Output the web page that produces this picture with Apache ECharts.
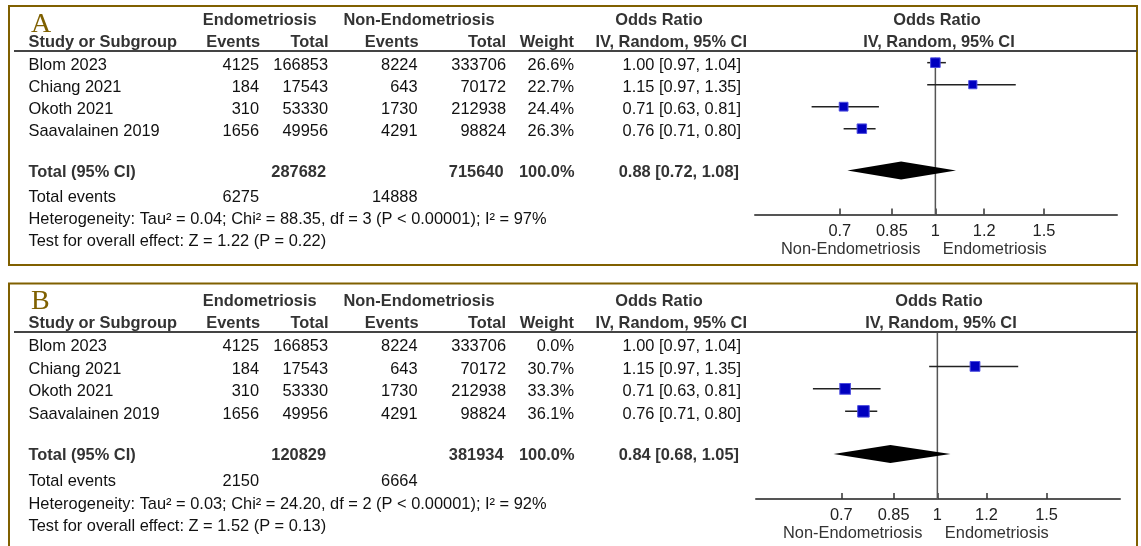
<!DOCTYPE html>
<html>
<head>
<meta charset="utf-8">
<script src="https://cdn.jsdelivr.net/npm/echarts@6/dist/echarts.min.js"></script>
<style>
  html, body { margin: 0; padding: 0; background: #fff; }
  #chart { width: 1141px; height: 546px; }
</style>
</head>
<body>
<div id="chart"></div>
<script>
// Study-level data (shared by both analyses)
const studies    = ['Blom 2023', 'Chiang 2021', 'Okoth 2021', 'Saavalainen 2019'];
const endoEvents = [4125, 184, 310, 1656];
const endoTotal  = [166853, 17543, 53330, 49956];
const nonEvents  = [8224, 643, 1730, 4291];
const nonTotal   = [333706, 70172, 212938, 98824];
const orEst      = [1.00, 1.15, 0.71, 0.76];
const orLow      = [0.97, 0.97, 0.63, 0.71];
const orHigh     = [1.04, 1.35, 0.81, 0.80];

// Analysis A: all studies
const weightsA     = [26.6, 22.7, 24.4, 26.3];
const pooledA      = [0.88, 0.72, 1.08];        // estimate, low, high
const sumTotalsA   = [287682, 715640];          // endometriosis, non-endometriosis
const sumEventsA   = [6275, 14888];
const heteroA      = 'Heterogeneity: Tau² = 0.04; Chi² = 88.35, df = 3 (P < 0.00001); I² = 97%';
const overallA     = 'Test for overall effect: Z = 1.22 (P = 0.22)';

// Analysis B: Blom 2023 given zero weight
const weightsB     = [0.0, 30.7, 33.3, 36.1];
const pooledB      = [0.84, 0.68, 1.05];
const sumTotalsB   = [120829, 381934];
const sumEventsB   = [2150, 6664];
const heteroB      = 'Heterogeneity: Tau² = 0.03; Chi² = 24.20, df = 2 (P < 0.00001); I² = 92%';
const overallB     = 'Test for overall effect: Z = 1.52 (P = 0.13)';

// Axis
const orTicks  = [0.7, 0.85, 1, 1.2, 1.5];
const orRange  = [0.51, 1.97];
const sideLabels = ['Non-Endometriosis', 'Endometriosis'];

// ---------- layout ----------
const FONT = '"Liberation Sans", Arial, Helvetica, sans-serif';
const FS = 16.4;
const Y_MIN = -0.53, Y_MAX = 6.9;
const TOTAL_ROW = 4.9;
const panels = [
  { letter: 'A', boxTop: 6, boxH: 259, lineY: 51, axisY: 214.5, left: 755, width: 362, vStart: -0.22, sizeK: 0.36,
    weights: weightsA, pooled: pooledA, sumTotals: sumTotalsA, sumEvents: sumEventsA, hetero: heteroA, overall: overallA },
  { letter: 'B', boxTop: 283.5, boxH: 300, lineY: 332, axisY: 499, left: 756, width: 364, vStart: -0.5, sizeK: 0.318,
    weights: weightsB, pooled: pooledB, sumTotals: sumTotalsB, sumEvents: sumEventsB, hetero: heteroB, overall: overallB }
];
const COL = { name: 28.5, endoEv: 259, endoTot: 328, nonEv: 417.5, nonTot: 506, weight: 574, ci: 741 };

function rowPix(p, r) {
  const step = (p.axisY - p.lineY) / (Y_MAX - Y_MIN);
  return p.lineY + (r - Y_MIN) * step;
}
function txt(x, y, s, align, bold, color) {
  return {
    type: 'text', silent: true, z: 10,
    style: { text: s, x: x, y: y, align: align, verticalAlign: 'middle',
             font: (bold ? 'bold ' : '') + FS + 'px ' + FONT, fill: color || '#111' }
  };
}
const f2 = v => v.toFixed(2);
const ciText = (e, l, h) => f2(e) + ' [' + f2(l) + ', ' + f2(h) + ']';

const chart = echarts.init(document.getElementById('chart'), null, { renderer: 'canvas' });

const grids = [], xAxes = [], yAxes = [], series = [], graphics = [];

panels.forEach((p, i) => {
  grids.push({ left: p.left, width: p.width, top: p.lineY, height: p.axisY - p.lineY });
  xAxes.push({
    type: 'log', logBase: 10, gridIndex: i, min: orRange[0], max: orRange[1],
    axisLine: { show: true, onZero: false, lineStyle: { color: '#555', width: 2 } },
    axisTick: { show: true, inside: true, length: 6, customValues: orTicks, lineStyle: { color: '#333', width: 1.5 } },
    axisLabel: { show: true, customValues: orTicks, margin: 8.5, fontSize: FS, fontFamily: FONT, color: '#222',
                 formatter: v => String(Math.round(v * 100) / 100) },
    splitLine: { show: false }, minorTick: { show: false }, minorSplitLine: { show: false }
  });
  yAxes.push({ type: 'value', gridIndex: i, inverse: true, min: Y_MIN, max: Y_MAX, show: false, splitLine: { show: false } });

  // line of no effect
  series.push({
    type: 'line', xAxisIndex: i, yAxisIndex: i, silent: true, symbol: 'none', z: 1,
    lineStyle: { color: '#555', width: 1.5 },
    data: [[1, p.vStart], [1, Y_MAX]]
  });

  // confidence intervals of individual studies
  const studyData = studies.map((s, k) => [orEst[k], k, orLow[k], orHigh[k], p.weights[k]]);
  series.push({
    type: 'custom', xAxisIndex: i, yAxisIndex: i, silent: true, z: 2,
    encode: { x: [0, 2, 3], y: 1 },
    data: studyData,
    renderItem: (params, api) => {
      if (api.value(4) <= 0) return null;
      const a = api.coord([api.value(2), api.value(1)]);
      const b = api.coord([api.value(3), api.value(1)]);
      return { type: 'line', shape: { x1: a[0], y1: a[1], x2: b[0], y2: b[1] },
               style: { stroke: '#222', lineWidth: 1.5 } };
    }
  });
  // study squares sized by weight
  series.push({
    type: 'scatter', xAxisIndex: i, yAxisIndex: i, silent: true, z: 3,
    symbol: 'rect',
    symbolSize: v => v[2] * p.sizeK,
    itemStyle: { color: '#0000bf', borderColor: '#4d4de0', borderWidth: 1, opacity: 1 },
    data: studies.map((s, k) => [orEst[k], k, p.weights[k]]).filter(d => d[2] > 0)
  });
  // pooled estimate diamond
  series.push({
    type: 'custom', xAxisIndex: i, yAxisIndex: i, silent: true, z: 3,
    encode: { x: [0, 1, 2], y: 3 },
    data: [[p.pooled[0], p.pooled[1], p.pooled[2], TOTAL_ROW]],
    renderItem: (params, api) => {
      const c = api.coord([api.value(0), api.value(3)]);
      const l = api.coord([api.value(1), api.value(3)]);
      const r = api.coord([api.value(2), api.value(3)]);
      const h = 9;
      return { type: 'polygon',
               shape: { points: [[l[0], c[1]], [c[0], c[1] - h], [r[0], c[1]], [c[0], c[1] + h]] },
               style: { fill: '#000' } };
    }
  });

  // frame and panel letter
  graphics.push({ type: 'rect', silent: true, z: 0,
    shape: { x: 9, y: p.boxTop, width: 1128, height: p.boxH },
    style: { fill: 'none', stroke: '#806000', lineWidth: 2 } });
  graphics.push({ type: 'text', silent: true, z: 10,
    style: { text: p.letter, x: 31, y: p.boxTop + 18.5, align: 'left', verticalAlign: 'middle',
             font: '28px "Liberation Serif", "Times New Roman", serif', fill: '#7f6000' } });

  // header rule
  graphics.push({ type: 'line', silent: true, z: 5,
    shape: { x1: 14, y1: p.lineY, x2: 1137, y2: p.lineY },
    style: { stroke: '#444', lineWidth: 2 } });

  // column headers
  const h1 = p.lineY - 30.5, h2 = p.lineY - 9;
  const hc = '#333';
  const plotMid = p.left + p.width / 2;
  graphics.push(txt(259.7, h1, 'Endometriosis', 'center', true, hc));
  graphics.push(txt(419, h1, 'Non-Endometriosis', 'center', true, hc));
  graphics.push(txt(659, h1, 'Odds Ratio', 'center', true, hc));
  graphics.push(txt(plotMid + 1, h1, 'Odds Ratio', 'center', true, hc));
  graphics.push(txt(COL.name, h2, 'Study or Subgroup', 'left', true, hc));
  graphics.push(txt(260, h2, 'Events', 'right', true, hc));
  graphics.push(txt(328.5, h2, 'Total', 'right', true, hc));
  graphics.push(txt(418.5, h2, 'Events', 'right', true, hc));
  graphics.push(txt(506, h2, 'Total', 'right', true, hc));
  graphics.push(txt(574, h2, 'Weight', 'right', true, hc));
  graphics.push(txt(747, h2, 'IV, Random, 95% CI', 'right', true, hc));
  graphics.push(txt(plotMid + 3, h2, 'IV, Random, 95% CI', 'center', true, hc));

  // study rows
  studies.forEach((s, k) => {
    const y = rowPix(p, k) + 2.8;
    graphics.push(txt(COL.name, y, s, 'left'));
    graphics.push(txt(COL.endoEv, y, String(endoEvents[k]), 'right'));
    graphics.push(txt(COL.endoTot, y, String(endoTotal[k]), 'right'));
    graphics.push(txt(COL.nonEv, y, String(nonEvents[k]), 'right'));
    graphics.push(txt(COL.nonTot, y, String(nonTotal[k]), 'right'));
    graphics.push(txt(COL.weight, y, p.weights[k].toFixed(1) + '%', 'right'));
    graphics.push(txt(COL.ci, y, ciText(orEst[k], orLow[k], orHigh[k]), 'right'));
  });

  // pooled row
  const yt = rowPix(p, TOTAL_ROW) + 1.8;
  graphics.push(txt(COL.name, yt, 'Total (95% CI)', 'left', true, hc));
  graphics.push(txt(326, yt, String(p.sumTotals[0]), 'right', true, hc));
  graphics.push(txt(503.5, yt, String(p.sumTotals[1]), 'right', true, hc));
  graphics.push(txt(574.5, yt, '100.0%', 'right', true, hc));
  graphics.push(txt(739, yt, ciText(p.pooled[0], p.pooled[1], p.pooled[2]), 'right', true, hc));

  // summary lines
  const ye = rowPix(p, 6) + 2.8;
  graphics.push(txt(COL.name, ye, 'Total events', 'left'));
  graphics.push(txt(COL.endoEv, ye, String(p.sumEvents[0]), 'right'));
  graphics.push(txt(COL.nonEv, ye, String(p.sumEvents[1]), 'right'));
  graphics.push(txt(COL.name, rowPix(p, 7) + 2.8, p.hetero, 'left'));
  graphics.push(txt(COL.name, rowPix(p, 8) + 2.8, p.overall, 'left'));
});

chart.setOption({
  backgroundColor: '#fff',
  animation: false,
  grid: grids,
  xAxis: xAxes,
  yAxis: yAxes,
  series: series,
  graphic: { elements: graphics }
});

// favours labels either side of the line of no effect
const sideGraphics = [];
panels.forEach((p, i) => {
  const one = chart.convertToPixel({ gridIndex: i }, [1, Y_MAX]);
  const y = p.axisY + 34.5;
  sideGraphics.push(txt(one[0] - 15, y, sideLabels[0], 'right', false, '#333'));
  sideGraphics.push(txt(one[0] + 7.5, y, sideLabels[1], 'left', false, '#333'));
});
chart.setOption({ graphic: { elements: graphics.concat(sideGraphics) } });
</script>
</body>
</html>
